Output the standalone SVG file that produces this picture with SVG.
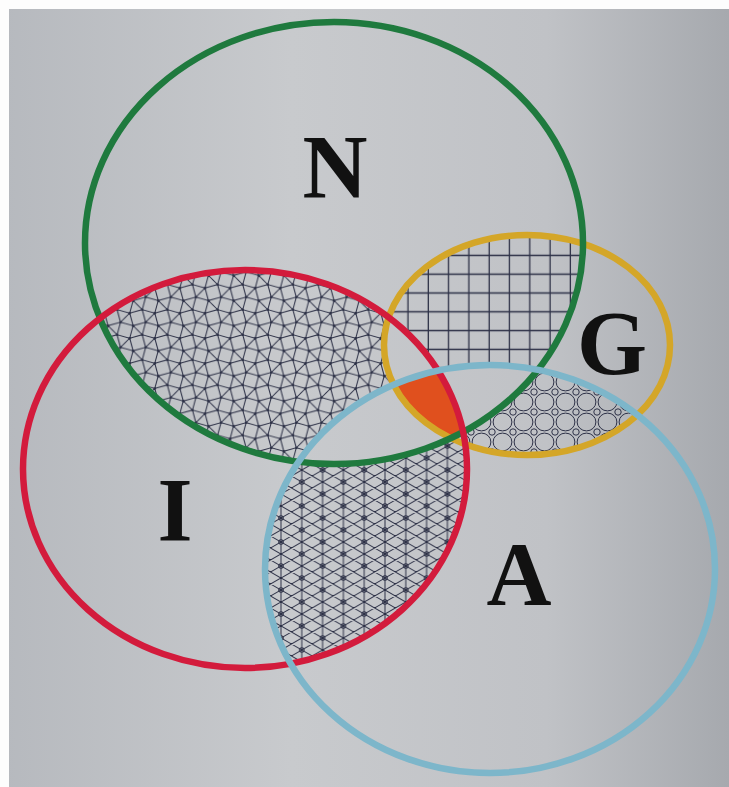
<svg xmlns="http://www.w3.org/2000/svg" width="729" height="787" viewBox="0 0 729 787">
<style>
.ring{fill:none;stroke-width:6.5}
.hatch{fill:none;stroke:#2c3046;stroke-width:1}
.lbl{font-family:"Liberation Serif","Times New Roman",serif;font-weight:bold;font-size:90px;fill:#111;text-anchor:middle}
</style>
<defs>
<linearGradient id="bg" x1="0" y1="0" x2="1" y2="0">
<stop offset="0" stop-color="#b6b9be"/>
<stop offset="0.4" stop-color="#c8cacd"/>
<stop offset="0.75" stop-color="#c0c2c6"/>
<stop offset="1" stop-color="#a6a9ae"/>
</linearGradient>
<clipPath id="cN"><ellipse cx="334" cy="243" rx="249" ry="221"/></clipPath>
<clipPath id="cI"><ellipse cx="245" cy="469" rx="222" ry="199"/></clipPath>
<clipPath id="cG"><ellipse cx="527" cy="345" rx="143" ry="110"/></clipPath>
<clipPath id="cA"><ellipse cx="490" cy="569" rx="225" ry="204"/></clipPath>
<mask id="mGA" maskUnits="userSpaceOnUse" x="0" y="0" width="729" height="787">
<rect width="729" height="787" fill="#fff"/>
<ellipse cx="527" cy="345" rx="143" ry="110" fill="#000"/>
<ellipse cx="490" cy="569" rx="225" ry="204" fill="#000"/>
</mask>
<mask id="mIA" maskUnits="userSpaceOnUse" x="0" y="0" width="729" height="787">
<rect width="729" height="787" fill="#fff"/>
<ellipse cx="245" cy="469" rx="222" ry="199" fill="#000"/>
<ellipse cx="490" cy="569" rx="225" ry="204" fill="#000"/>
</mask>
<mask id="mNI" maskUnits="userSpaceOnUse" x="0" y="0" width="729" height="787">
<rect width="729" height="787" fill="#fff"/>
<ellipse cx="334" cy="243" rx="249" ry="221" fill="#000"/>
<ellipse cx="245" cy="469" rx="222" ry="199" fill="#000"/>
</mask>
<mask id="mNG" maskUnits="userSpaceOnUse" x="0" y="0" width="729" height="787">
<rect width="729" height="787" fill="#fff"/>
<ellipse cx="334" cy="243" rx="249" ry="221" fill="#000"/>
<ellipse cx="527" cy="345" rx="143" ry="110" fill="#000"/>
</mask>
<pattern id="pSnub" patternUnits="userSpaceOnUse" x="100" y="280" width="25.114" height="25.114">
<path class="hatch" d="M4.596,7.961L17.153,4.596L20.518,17.153L7.961,20.518Z M4.596,7.961L-7.961,4.596L-4.596,-7.961L7.961,-4.596Z M29.71,7.961L17.153,4.596L20.518,-7.961L33.075,-4.596Z M4.596,33.075L-7.961,29.71L-4.596,17.153L7.961,20.518Z M29.71,33.075L17.153,29.71L20.518,17.153L33.075,20.518Z M4.596,7.961L-4.596,17.153 M29.71,7.961L20.518,17.153 M17.153,4.596L7.961,-4.596 M17.153,29.71L7.961,20.518"/>
<g fill="#2c3046"><circle cx="4.596" cy="7.961" r="1.3"/><circle cx="17.153" cy="4.596" r="1.3"/><circle cx="20.518" cy="17.153" r="1.3"/><circle cx="7.961" cy="20.518" r="1.3"/></g>
</pattern>
<pattern id="pGrid" patternUnits="userSpaceOnUse" x="398" y="246" width="20.3" height="18.8">
<path d="M10,0V18.8M0,9.4H20.3" fill="none" stroke="#2c3046" stroke-width="1.3"/>
</pattern>
<pattern id="pCirc" patternUnits="userSpaceOnUse" x="450" y="372" width="21" height="20">
<ellipse class="hatch" cx="10.5" cy="10" rx="9.4" ry="8.9"/>
<g class="hatch"><circle cx="0" cy="0" r="3.2"/><circle cx="21" cy="0" r="3.2"/><circle cx="0" cy="20" r="3.2"/><circle cx="21" cy="20" r="3.2"/></g>
</pattern>
<pattern id="pTri" patternUnits="userSpaceOnUse" x="281" y="470" width="41.6" height="24">
<path class="hatch" d="M0,0V24M20.8,0V24M41.6,0V24 M0,-24L41.6,0M0,-12L41.6,12M0,0L41.6,24M0,12L41.6,36 M0,0L41.6,-24M0,12L41.6,-12M0,24L41.6,0M0,36L41.6,12"/>
<g class="hatch"><circle cx="0" cy="0" r="2.3"/><circle cx="41.6" cy="0" r="2.3"/><circle cx="0" cy="24" r="2.3"/><circle cx="41.6" cy="24" r="2.3"/><circle cx="20.8" cy="12" r="2.3"/></g>
</pattern>
</defs>
<rect width="729" height="787" fill="url(#bg)"/>
<rect width="729" height="9" fill="#fdfdfd"/>
<rect width="9" height="787" fill="#fdfdfd"/>
<g id="regions">
<g clip-path="url(#cN)"><g clip-path="url(#cI)"><rect width="729" height="787" fill="url(#pSnub)" mask="url(#mGA)"/></g></g>
<g clip-path="url(#cN)"><g clip-path="url(#cG)"><rect width="729" height="787" fill="url(#pGrid)" mask="url(#mIA)"/></g></g>
<g clip-path="url(#cG)"><g clip-path="url(#cA)"><rect width="729" height="787" fill="url(#pCirc)" mask="url(#mNI)"/></g></g>
<g clip-path="url(#cI)"><g clip-path="url(#cA)"><rect width="729" height="787" fill="url(#pTri)" mask="url(#mNG)"/></g></g>
<g clip-path="url(#cN)"><g clip-path="url(#cI)"><g clip-path="url(#cG)"><g clip-path="url(#cA)"><rect width="729" height="787" fill="#e0501e"/></g></g></g></g>
</g>
<g id="G">
<ellipse class="ring" cx="527" cy="345" rx="143" ry="110" stroke="#d4a628"/>
<text class="lbl" x="612" y="374">G</text>
</g>
<g id="N">
<ellipse class="ring" cx="334" cy="243" rx="249" ry="221" stroke="#1f7a3e"/>
<text class="lbl" x="335" y="198">N</text>
</g>
<g id="I">
<ellipse class="ring" cx="245" cy="469" rx="222" ry="199" stroke="#d31b3c"/>
<text class="lbl" x="175" y="541">I</text>
</g>
<g id="A">
<ellipse class="ring" cx="490" cy="569" rx="225" ry="204" stroke="#7db6ca"/>
<text class="lbl" x="519" y="605">A</text>
</g>
</svg>
